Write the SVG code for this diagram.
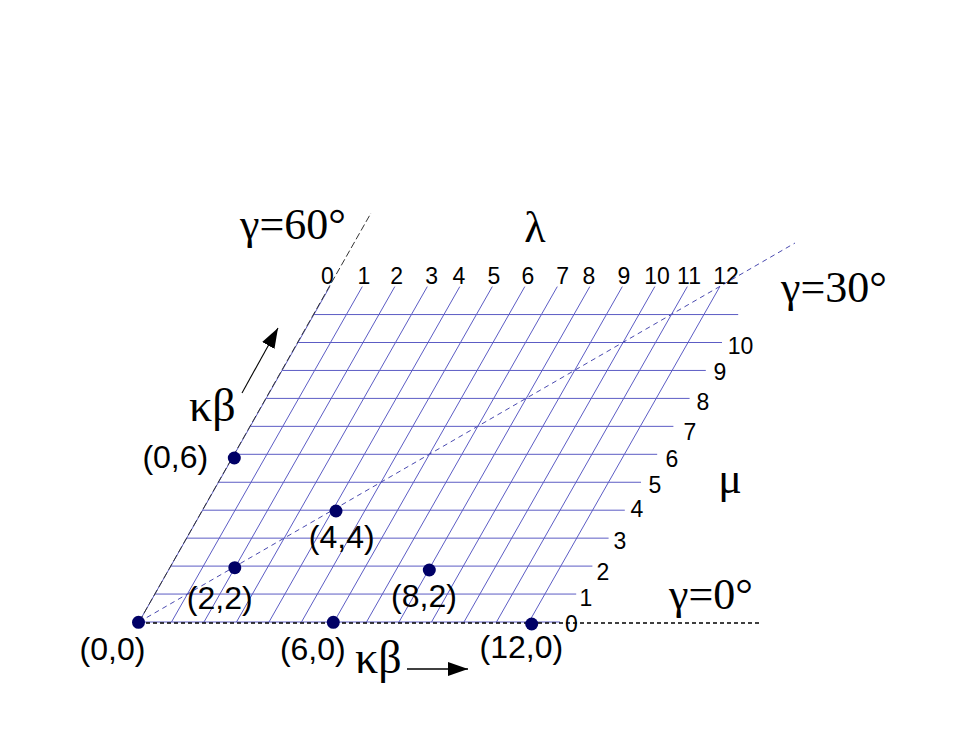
<svg xmlns="http://www.w3.org/2000/svg" width="957" height="739" viewBox="0 0 957 739">
<style>
.grid line{stroke:#5c5cc4;stroke-width:1}
.hline{stroke:#7070cc;stroke-width:1.3}
.num{font-family:"Liberation Sans",Arial,sans-serif;font-size:23px;fill:#000;text-anchor:middle}
.pt{font-family:"Liberation Sans",Arial,sans-serif;font-size:32px;fill:#000;text-anchor:middle}
.gr{font-family:"Liberation Serif","Times New Roman",serif;font-size:44px;fill:#000}
.dot{fill:#000066}
</style>
<defs>
<marker id="ah" markerUnits="userSpaceOnUse" markerWidth="20" markerHeight="14" refX="20" refY="7" orient="auto">
<path d="M0,0 L20,7 L0,14 z" fill="#000"/>
</marker>
</defs>
<rect width="957" height="739" fill="#fff"/>
<g id="grid" class="grid">
<line x1="139" y1="622" x2="329.8" y2="286.6"/>
<line x1="171.5" y1="622" x2="362.3" y2="286.6"/>
<line x1="204" y1="622" x2="394.8" y2="286.6"/>
<line x1="236.5" y1="622" x2="427.3" y2="286.6"/>
<line x1="269" y1="622" x2="459.8" y2="286.6"/>
<line x1="301.5" y1="622" x2="492.3" y2="286.6"/>
<line x1="334" y1="622" x2="524.8" y2="286.6"/>
<line x1="366.5" y1="622" x2="557.3" y2="286.6"/>
<line x1="399" y1="622" x2="589.8" y2="286.6"/>
<line x1="431.5" y1="622" x2="622.3" y2="286.6"/>
<line x1="464" y1="622" x2="654.8" y2="286.6"/>
<line x1="496.5" y1="622" x2="687.3" y2="286.6"/>
<line x1="529" y1="622" x2="719.8" y2="286.6"/>
<line class="hline" x1="139" y1="622" x2="560" y2="622"/>
<line class="hline" x1="154.9" y1="594.05" x2="576.2" y2="594.05"/>
<line class="hline" x1="170.8" y1="566.1" x2="592.4" y2="566.1"/>
<line class="hline" x1="186.7" y1="538.15" x2="608.6" y2="538.15"/>
<line class="hline" x1="202.6" y1="510.2" x2="624.8" y2="510.2"/>
<line class="hline" x1="218.5" y1="482.25" x2="641" y2="482.25"/>
<line class="hline" x1="234.4" y1="454.3" x2="657.2" y2="454.3"/>
<line class="hline" x1="250.3" y1="426.35" x2="673.4" y2="426.35"/>
<line class="hline" x1="266.2" y1="398.4" x2="689.6" y2="398.4"/>
<line class="hline" x1="282.1" y1="370.45" x2="705.8" y2="370.45"/>
<line class="hline" x1="298" y1="342.5" x2="722" y2="342.5"/>
<line class="hline" x1="313.9" y1="314.55" x2="738.2" y2="314.55"/>
</g>
<g id="connectors">
<line x1="139" y1="622" x2="371" y2="213" stroke="#333" stroke-width="1" stroke-dasharray="7,3"/>
<line x1="139" y1="622" x2="795" y2="243" stroke="#4a4ab0" stroke-width="1" stroke-dasharray="5,4"/>
<line x1="139" y1="623" x2="760" y2="623" stroke="#000" stroke-width="1.3" stroke-dasharray="4,3"/>
<line x1="242" y1="393" x2="278" y2="328" stroke="#000" stroke-width="1.1" marker-end="url(#ah)"/>
<line x1="407" y1="669" x2="468" y2="669" stroke="#000" stroke-width="1.3" marker-end="url(#ah)"/>
</g>
<g id="lambda-labels" class="num">
<text x="327.3" y="284">0</text>
<text x="364" y="284">1</text>
<text x="396.7" y="284">2</text>
<text x="431.7" y="284">3</text>
<text x="459" y="284">4</text>
<text x="494" y="284">5</text>
<text x="528" y="284">6</text>
<text x="562.7" y="284">7</text>
<text x="589" y="284">8</text>
<text x="624" y="284">9</text>
<text x="657" y="284">10</text>
<text x="689" y="284">11</text>
<text x="726" y="284">12</text>
</g>
<g id="mu-labels" class="num">
<text x="571.5" y="631.5">0</text>
<text x="586" y="606">1</text>
<text x="603" y="580">2</text>
<text x="620" y="549">3</text>
<text x="637" y="517">4</text>
<text x="655" y="493">5</text>
<text x="672" y="466.5">6</text>
<text x="690" y="440">7</text>
<text x="703" y="410">8</text>
<text x="720" y="380">9</text>
<text x="740.5" y="354">10</text>
</g>
<g id="p00"><circle class="dot" cx="138.5" cy="622.3" r="6.5"/><text class="pt" x="112.5" y="660">(0,0)</text></g>
<g id="p60"><circle class="dot" cx="333.3" cy="622.3" r="6.5"/><text class="pt" x="312.8" y="660">(6,0)</text></g>
<g id="p120"><circle class="dot" cx="531.7" cy="624" r="6.5"/><text class="pt" x="521.3" y="658">(12,0)</text></g>
<g id="p22"><circle class="dot" cx="234.8" cy="567.7" r="6.5"/><text class="pt" x="219.7" y="609">(2,2)</text></g>
<g id="p44"><circle class="dot" cx="336" cy="511" r="6.5"/><text class="pt" x="341.7" y="548">(4,4)</text></g>
<g id="p82"><circle class="dot" cx="429.3" cy="570" r="6.5"/><text class="pt" x="424" y="607">(8,2)</text></g>
<g id="p06"><circle class="dot" cx="234.3" cy="458" r="6.5"/><text class="pt" x="175.3" y="468">(0,6)</text></g>
<g id="greek-labels" class="gr">
<text x="240" y="239">γ=60°</text>
<text x="535" y="242" text-anchor="middle">λ</text>
<text x="781" y="302">γ=30°</text>
<text x="730" y="493" text-anchor="middle">μ</text>
<text x="669" y="609">γ=0°</text>
<text x="189" y="421" font-size="46">κβ</text>
<text x="355" y="673" font-size="46">κβ</text>
</g>
</svg>
